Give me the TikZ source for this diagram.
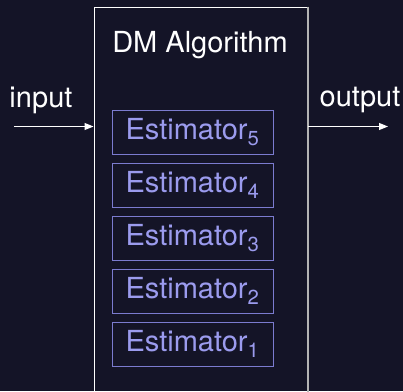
\documentclass[tikz,border=0pt]{standalone}
\usepackage{fontspec}
\setmainfont{TeX Gyre Heros}
\usetikzlibrary{arrows.meta}
\definecolor{bgnavy}{HTML}{141427}
\definecolor{estfill}{HTML}{9B9BEE}
\definecolor{estline}{HTML}{7B7BCF}
\definecolor{edgegray}{HTML}{B4B4B4}
\tikzset{
  lbl/.style={text=white, font=\fontsize{29}{32}\selectfont, inner sep=0pt},
  estbox/.style={draw=estline, line width=1pt, text=estfill,
    minimum width=161pt, minimum height=44pt, inner sep=0pt,
    font=\fontsize{29}{32}\selectfont},
  flow/.style={draw=white, line width=1pt, -{Triangle[length=9pt,width=7pt]}}
}
\newcommand{\est}[1]{Estimator\textsubscript{#1}}
\begin{document}
\begin{tikzpicture}[x=1pt,y=-1pt]
  \fill[bgnavy] (0,0) rectangle (403,391);
  \useasboundingbox (0,0) rectangle (403,391);
  % outer algorithm block, running off the bottom edge
  \begin{scope}
    \clip (0,0) rectangle (403,391);
    \node[draw=white, line width=1pt, minimum width=213.5pt, minimum height=400pt,
          inner sep=0pt, anchor=north west] (dm) at (93.5,6.5) {};
    \draw[edgegray, line width=1.6pt] (dm.north east) -- (dm.south east);
  \end{scope}
  \node[lbl] (title) at (200,45) {DM Algorithm};
  \node[lbl] (in) at (41,100) {input};
  \node[lbl] (out) at (360,100) {output};
  % estimators, stacked bottom-up
  \node[estbox] (e5) at (192.5,132) {\est{5}};
  \node[estbox] (e4) at (192.5,185) {\est{4}};
  \node[estbox] (e3) at (192.5,238) {\est{3}};
  \node[estbox] (e2) at (192.5,291) {\est{2}};
  \node[estbox] (e1) at (192.5,344) {\est{1}};
  % data flow
  \coordinate (src) at (14,126.5);
  \coordinate (dst) at (388,126.5);
  \draw[flow] (src) -- (src -| dm.west);
  \draw[flow] (src -| dm.east) -- (dst);
\end{tikzpicture}
\end{document}
